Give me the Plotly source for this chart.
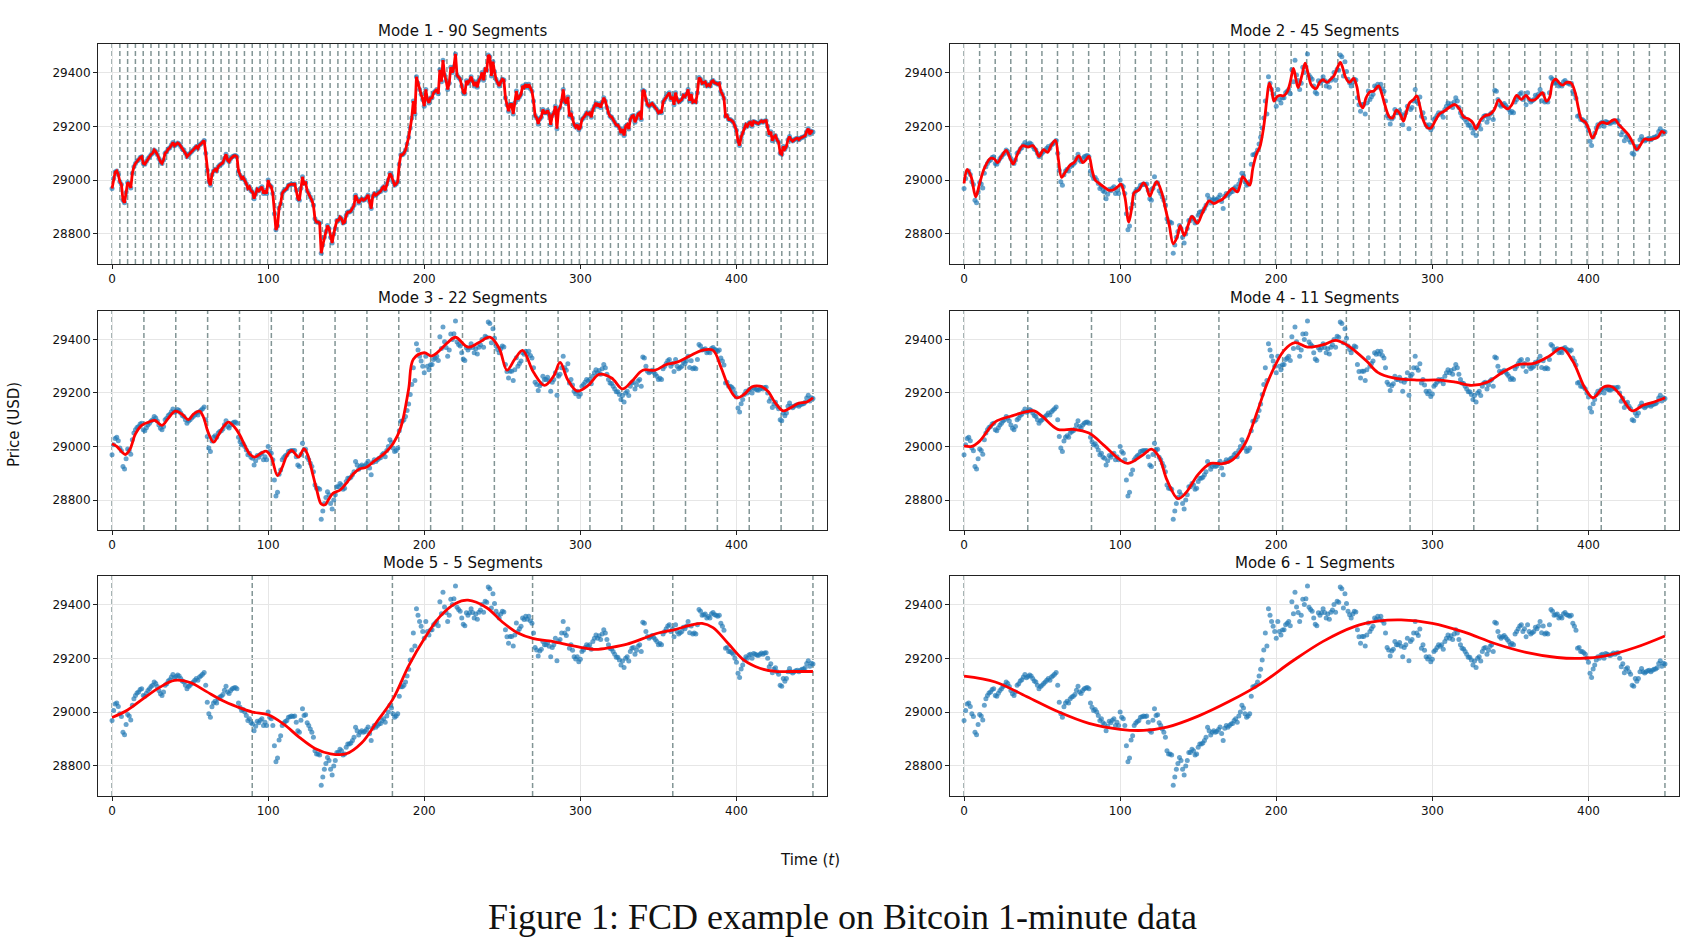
import plotly.graph_objects as go
from plotly.subplots import make_subplots

# ---------------- data ----------------
price = [
    28969, 29006, 29030, 29034, 29021, 28994, 28984, 28925, 28916, 28954,
    28991, 28985, 28971, 29025, 29050, 29062, 29071, 29075, 29084, 29087,
    29062, 29059, 29070, 29080, 29087, 29095, 29100, 29112, 29106, 29095,
    29080, 29068, 29062, 29075, 29100, 29105, 29116, 29120, 29130, 29140,
    29128, 29132, 29138, 29134, 29125, 29116, 29112, 29100, 29087, 29095,
    29100, 29106, 29112, 29118, 29125, 29118, 29130, 29135, 29141, 29147,
    29100, 29037, 28994, 28981, 29020, 29034, 29040, 29034, 29050, 29056,
    29059, 29065, 29081, 29096, 29075, 29069, 29080, 29087, 29090, 29091,
    29087, 29034, 29018, 29006, 29010, 29000, 28987, 28969, 28975, 28960,
    28956, 28931, 28947, 28966, 28960, 28970, 28975, 28950, 28962, 28950,
    29000, 28981, 28975, 28950, 28875, 28815, 28829, 28896, 28912, 28950,
    28959, 28965, 28969, 28981, 28983, 28985, 28984, 28985, 28962, 28931,
    28925, 28970, 29012, 28987, 28990, 28960, 28950, 28937, 28925, 28906,
    28856, 28844, 28844, 28840, 28728, 28759, 28787, 28809, 28831, 28820,
    28787, 28766, 28800, 28820, 28850, 28850, 28862, 28856, 28840, 28844,
    28869, 28881, 28881, 28885, 28894, 28906, 28944, 28931, 28915, 28925,
    28931, 28925, 28928, 28935, 28945, 28920, 28894, 28940, 28950, 28944,
    28950, 28956, 28958, 28969, 28975, 28962, 28985, 29000, 29025, 29015,
    28994, 28981, 28985, 28994, 29059, 29094, 29094, 29100, 29112, 29134,
    29159, 29194, 29231, 29294, 29246, 29384, 29360, 29337, 29319, 29300,
    29275, 29337, 29300, 29287, 29305, 29306, 29325, 29330, 29337, 29321,
    29410, 29366, 29446, 29391, 29370, 29337, 29360, 29420, 29400, 29421,
    29469, 29390, 29381, 29375, 29350, 29327, 29321, 29369, 29360, 29369,
    29384, 29370, 29350, 29365, 29345, 29371, 29380, 29400, 29371, 29412,
    29408, 29465, 29459, 29387, 29440, 29404, 29375, 29362, 29350, 29365,
    29375, 29372, 29306, 29280, 29256, 29281, 29281, 29246, 29287, 29331,
    29300, 29310, 29319, 29350, 29344, 29356, 29345, 29356, 29340, 29330,
    29294, 29240, 29231, 29209, 29227, 29234, 29262, 29250, 29250, 29259,
    29245, 29206, 29240, 29250, 29275, 29191, 29262, 29270, 29294, 29337,
    29294, 29285, 29309, 29237, 29250, 29230, 29206, 29197, 29206, 29187,
    29196, 29225, 29231, 29240, 29250, 29245, 29250, 29234, 29262, 29275,
    29287, 29275, 29284, 29270, 29290, 29306, 29294, 29270, 29250, 29237,
    29235, 29225, 29215, 29204, 29204, 29194, 29175, 29190, 29166, 29200,
    29206, 29190, 29225, 29237, 29240, 29215, 29230, 29245, 29250, 29225,
    29334, 29330, 29300, 29281, 29275, 29280, 29285, 29277, 29270, 29262,
    29250, 29255, 29250, 29290, 29300, 29310, 29320, 29325, 29300, 29310,
    29280, 29325, 29300, 29290, 29295, 29300, 29315, 29310, 29320, 29337,
    29295, 29320, 29290, 29294, 29290, 29325, 29381, 29375, 29360, 29362,
    29365, 29350, 29355, 29350, 29366, 29370, 29362, 29360, 29356, 29360,
    29330, 29319, 29304, 29237, 29240, 29225, 29225, 29221, 29215, 29200,
    29185, 29144, 29129, 29160, 29175, 29194, 29206, 29200, 29212, 29215,
    29200, 29218, 29215, 29212, 29210, 29215, 29220, 29215, 29220, 29221,
    29200, 29169, 29180, 29146, 29160, 29165, 29150, 29141, 29100, 29096,
    29125, 29115, 29125, 29150, 29162, 29150, 29145, 29150, 29154, 29156,
    29150, 29156, 29159, 29160, 29165, 29181, 29191, 29170, 29182, 29179,
]
time = list(range(len(price)))

segments = [90, 45, 22, 11, 5, 1]

# Mode 1 reconstruction follows the data point by point
mode1_t = time
mode1_y = price

mode2_t = [0, 2, 4.5, 7.5, 10, 13, 17, 19.5, 21.5, 24, 27, 29.5, 31.5, 34.5, 37.5, 41, 44, 46, 48, 51,
           53.5, 56, 58.5, 60.5, 62.5, 65, 68, 70.5, 73.5, 76, 78, 80, 82, 84, 86.5, 89.5, 92.5, 95.5, 99,
           100.5, 103, 105.5, 107.5, 109, 112, 115, 117, 119, 121.5, 123.5, 126.5, 129, 131.5, 134, 136.5,
           138.5, 141, 144, 146, 149.5, 152, 155, 157, 160, 163, 166, 169.5, 172, 175, 177, 178.5, 181, 183,
           185, 187.5, 189.5, 192, 194, 195.5, 197, 198.5, 200.5, 202.5, 204.5, 207, 209, 211, 212.5, 214,
           216.5, 218.5, 220.5, 222.5, 225.5, 228, 230, 232.5, 234.5, 237, 239, 241, 242.5, 244.5, 247,
           249.5, 251.5, 253.5, 255.5, 257.5, 260, 262.5, 265.5, 267.5, 269.5, 272.5, 274.5, 277, 279.5,
           281.5, 283.5, 285.5, 288, 290, 292, 294, 297, 299, 302, 304.5, 307.5, 310.5, 314.5, 317.5, 320,
           323, 326, 328, 331, 334, 336.5, 339.5, 342.5, 345.5, 348.5, 351, 354, 357, 360, 362.5, 366,
           368.5, 370.5, 373, 375, 377, 379, 381, 383.5, 386, 389, 391.5, 393.5, 395.5, 398, 400.5, 402.5,
           404.5, 406.5, 409, 412, 414.5, 417, 419.5, 422.5, 425.5, 428, 431, 433, 436, 438.5, 441.5,
           444.5, 447, 449]
mode2_y = [28988, 29040, 29013, 28938, 28988, 29044, 29081, 29078, 29065, 29088, 29110, 29081, 29060, 29100,
           29128, 29123, 29128, 29113, 29088, 29113, 29103, 29131, 29148, 29075, 29010, 29031, 29056, 29065,
           29090, 29065, 29075, 29088, 29038, 29000, 28988, 28975, 28963, 28963, 28978, 28985, 28938, 28844,
           28900, 28953, 28963, 28990, 28973, 28940, 28975, 28994, 28956, 28894, 28831, 28763, 28788, 28831,
           28794, 28840, 28865, 28840, 28869, 28906, 28923, 28913, 28921, 28931, 28956, 28969, 28956, 28985,
           29013, 28994, 28981, 29044, 29100, 29123, 29200, 29303, 29360, 29338, 29294, 29310, 29315, 29313,
           29328, 29365, 29415, 29378, 29344, 29390, 29435, 29394, 29353, 29340, 29365, 29373, 29363, 29373,
           29388, 29415, 29438, 29419, 29381, 29363, 29378, 29350, 29288, 29269, 29306, 29328, 29331, 29350,
           29323, 29281, 29235, 29231, 29260, 29244, 29219, 29256, 29288, 29300, 29313, 29275, 29225, 29194,
           29194, 29222, 29246, 29256, 29269, 29281, 29263, 29235, 29228, 29213, 29190, 29225, 29240, 29244,
           29260, 29298, 29275, 29265, 29281, 29315, 29300, 29315, 29298, 29300, 29315, 29325, 29294, 29306,
           29363, 29375, 29363, 29353, 29363, 29360, 29325, 29269, 29225, 29215, 29185, 29156, 29175, 29206,
           29215, 29210, 29219, 29225, 29206, 29188, 29169, 29144, 29113, 29128, 29153, 29150, 29153, 29160,
           29181, 29173]

mode3_t = [0, 3, 8.5, 11.5, 15, 19, 23.5, 27.5, 32, 36, 40.5, 44.5, 49, 52, 56, 58.5, 61.5, 65, 68, 71.5,
           74.5, 78.5, 82, 85, 88.5, 91.5, 95.5, 99, 102, 106, 109, 112, 115, 117, 119.5, 123, 125.5, 128,
           131, 134, 136.5, 138.5, 141.5, 146, 150, 154.5, 158.5, 163, 167, 171.5, 175.5, 180, 185, 190,
           193, 200, 205, 215, 220, 228, 235, 242, 248, 253, 258, 263, 270, 277, 283, 287, 292, 298, 305,
           312, 320, 327, 333, 340, 348, 355, 362, 370, 378, 385, 390, 395, 400, 405, 410, 415, 420, 425,
           430, 435, 440, 445, 449]
mode3_y = [29010, 29000, 28970, 28990, 29047, 29079, 29091, 29097, 29079, 29105, 29132, 29122, 29100, 29120,
           29132, 29110, 29054, 29016, 29041, 29075, 29091, 29072, 29041, 29004, 28970, 28960, 28975, 28982,
           28960, 28891, 28922, 28966, 28985, 28975, 28960, 28991, 28966, 28910, 28841, 28785, 28782, 28800,
           28825, 28837, 28862, 28897, 28916, 28922, 28941, 28960, 28979, 29010, 29072, 29215, 29326, 29350,
           29338, 29388, 29408, 29371, 29388, 29408, 29367, 29285, 29326, 29359, 29277, 29228, 29264, 29314,
           29248, 29207, 29228, 29269, 29256, 29215, 29244, 29285, 29285, 29306, 29315, 29338, 29359, 29359,
           29297, 29223, 29182, 29195, 29223, 29225, 29207, 29162, 29133, 29146, 29162, 29166, 29182]

mode4_t = [0, 5, 10, 20, 30, 40, 45, 50, 60, 70, 80, 90, 100, 105, 115, 120, 125, 130, 137, 142, 150, 158,
           165, 172, 180, 188, 195, 205, 212, 220, 230, 238, 245, 250, 258, 265, 275, 290, 305, 315, 325,
           335, 345, 355, 365, 375, 383, 390, 398, 403, 410, 415, 420, 428, 435, 442, 449]
mode4_y = [29002, 29000, 29020, 29092, 29113, 29130, 29133, 29113, 29064, 29064, 29050, 29002, 28950, 28937,
           28970, 28990, 28960, 28875, 28805, 28826, 28896, 28937, 28935, 28950, 29010, 29133, 29248, 29359,
           29388, 29371, 29380, 29396, 29380, 29359, 29318, 29277, 29256, 29248, 29248, 29240, 29228, 29240,
           29277, 29306, 29310, 29338, 29367, 29318, 29215, 29182, 29223, 29223, 29195, 29133, 29154, 29166,
           29182]

mode5_t = [0, 10, 20, 30, 40, 50, 60, 70, 80, 90, 100, 110, 120, 130, 140, 150, 160, 170, 180, 190, 200,
           210, 220, 228, 240, 250, 260, 270, 280, 290, 300, 310, 320, 330, 340, 350, 360, 370, 378, 385,
           395, 405, 415, 425, 435, 449]
mode5_y = [28980, 29008, 29050, 29090, 29118, 29110, 29078, 29045, 29020, 29000, 28990, 28955, 28906, 28865,
           28845, 28845, 28886, 28967, 29049, 29172, 29273, 29355, 29404, 29416, 29388, 29335, 29294, 29273,
           29265, 29253, 29241, 29233, 29241, 29253, 29273, 29294, 29306, 29322, 29330, 29314, 29253, 29192,
           29163, 29151, 29151, 29151]

mode6_t = [0, 20, 40, 60, 80, 100, 115, 130, 150, 170, 190, 210, 230, 250, 265, 280, 300, 320, 340, 360,
           380, 395, 410, 430, 449]
mode6_y = [29134, 29112, 29058, 29002, 28958, 28936, 28932, 28944, 28985, 29040, 29105, 29188, 29263, 29318,
           29338, 29343, 29330, 29298, 29255, 29222, 29203, 29200, 29208, 29240, 29283]

mode_lines = [(mode1_t, mode1_y), (mode2_t, mode2_y), (mode3_t, mode3_y),
              (mode4_t, mode4_y), (mode5_t, mode5_y), (mode6_t, mode6_y)]

x_ticks = [0, 100, 200, 300, 400]
y_ticks = [28800, 29000, 29200, 29400]
y_tick_text = ["28800", "29000", "29200", "29400"]

# ---------------- figure ----------------
W, H = 1699, 949
FONT = "DejaVu Sans"

fig = make_subplots(rows=3, cols=2)

col_dom = [[98 / W, 827 / W], [950 / W, 1679 / W]]
row_px = [(44, 264), (311, 530), (576, 796)]
row_dom = [[1 - b / H, 1 - t / H] for (t, b) in row_px]

shapes = []
annotations = []
for k in range(6):
    r, c = k // 2, k % 2
    ax = "" if k == 0 else str(k + 1)
    lt, ly = mode_lines[k]
    fig.add_trace(go.Scatter(x=time, y=price, mode="markers",
                             marker=dict(size=5, color="rgba(31,119,180,0.68)", line=dict(width=0)),
                             showlegend=False, hoverinfo="skip"), row=r + 1, col=c + 1)
    fig.add_trace(go.Scatter(x=lt, y=ly, mode="lines",
                             line=dict(color="#ff0000", width=2.8,
                                       shape="linear" if k == 0 else "spline", smoothing=1.0),
                             showlegend=False), row=r + 1, col=c + 1)
    n = segments[k]
    for i in range(n + 1):
        b = i * (len(price) - 1) / n
        shapes.append(dict(type="line", xref="x" + ax, yref="y" + ax + " domain",
                           x0=b, x1=b, y0=0, y1=1, layer="below",
                           line=dict(color="rgba(47,79,79,0.6)", width=1.5, dash="5px,3px")))
    annotations.append(dict(text=f"Mode {k + 1} - {n} Segments", xref="paper", yref="paper",
                            x=(col_dom[c][0] + col_dom[c][1]) / 2, y=row_dom[r][1],
                            xanchor="center", yanchor="bottom", yshift=2, showarrow=False,
                            font=dict(family=FONT, size=15, color="#111")))
    fig.layout["xaxis" + ax].update(domain=col_dom[c], range=[-9, 458], tickvals=x_ticks,
                                     showgrid=True, gridcolor="#e6e6e6", gridwidth=1, zeroline=False,
                                     showline=True, linecolor="#222", linewidth=1, mirror=True,
                                     ticks="outside", ticklen=4, tickcolor="#222",
                                     tickfont=dict(family=FONT, size=12, color="#111"))
    fig.layout["yaxis" + ax].update(domain=row_dom[r], range=[28688, 29506], tickvals=y_ticks,
                                     ticktext=y_tick_text,
                                     showgrid=True, gridcolor="#e6e6e6", gridwidth=1, zeroline=False,
                                     showline=True, linecolor="#222", linewidth=1, mirror=True,
                                     ticks="outside", ticklen=4, tickcolor="#222",
                                     tickfont=dict(family=FONT, size=12, color="#111"))

annotations.append(dict(text="Price (USD)", xref="paper", yref="paper", x=14 / W, y=1 - 425 / H,
                        textangle=-90, showarrow=False, xanchor="center", yanchor="middle",
                        font=dict(family=FONT, size=15, color="#111")))
annotations.append(dict(text="Time (<i>t</i>)", xref="paper", yref="paper", x=810 / W, y=1 - 860 / H,
                        showarrow=False, xanchor="center", yanchor="middle",
                        font=dict(family=FONT, size=15, color="#111")))
annotations.append(dict(text="Figure 1: FCD example on Bitcoin 1-minute data", xref="paper", yref="paper",
                        x=842 / W, y=1 - 917 / H, showarrow=False, xanchor="center", yanchor="middle",
                        font=dict(family="Liberation Serif", size=36, color="#111")))

fig.update_layout(width=W, height=H, margin=dict(l=0, r=0, t=0, b=0),
                  paper_bgcolor="white", plot_bgcolor="white",
                  shapes=shapes, annotations=annotations, showlegend=False)

fig.write_html("out.html")
